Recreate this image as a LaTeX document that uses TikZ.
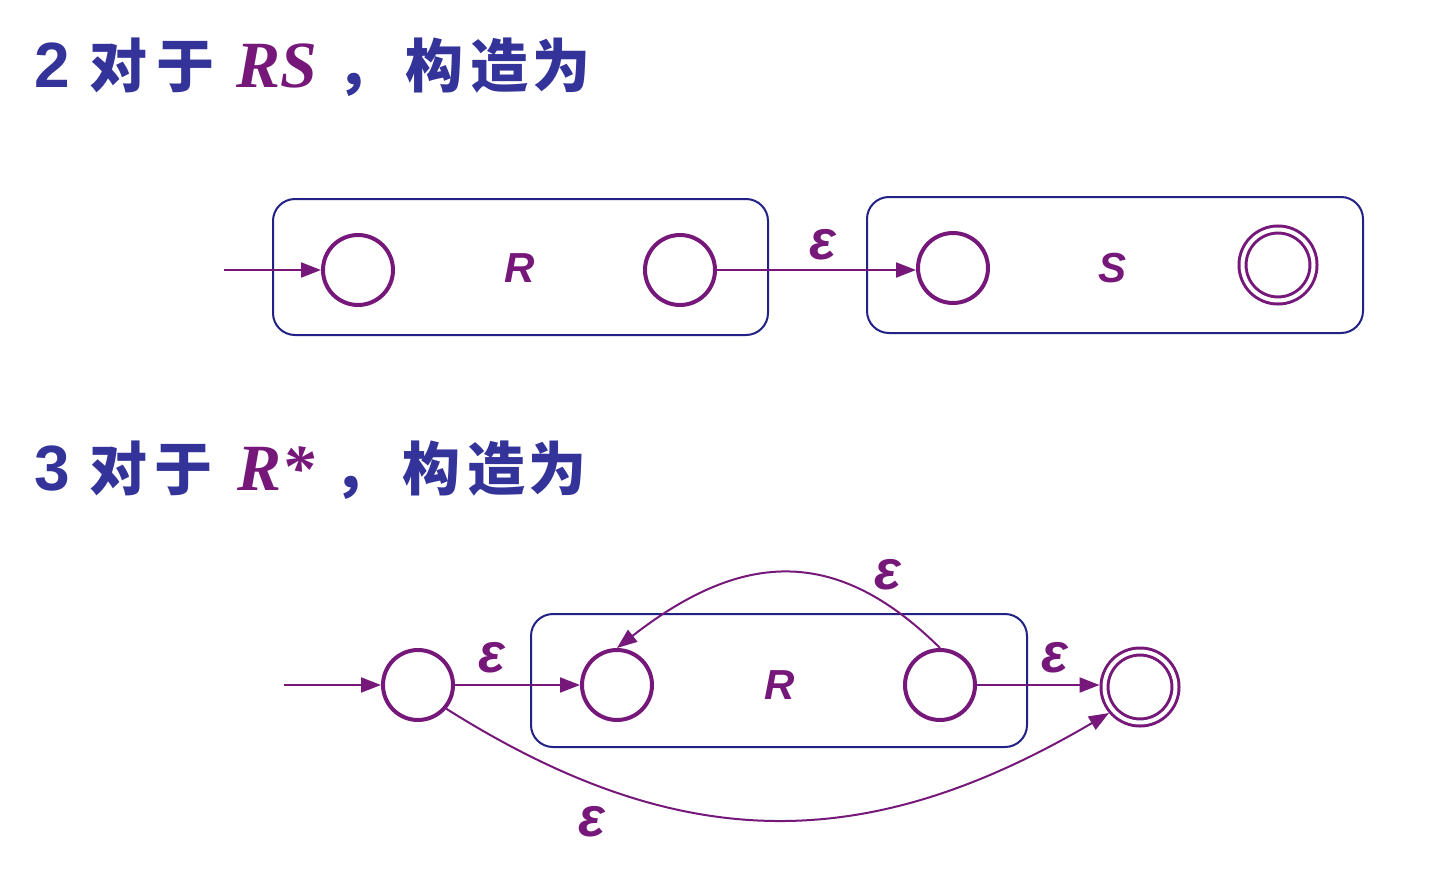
\documentclass[tikz,border=0pt]{standalone}
\usepackage{fontspec}
\setmainfont{Liberation Sans}
\newfontfamily\cjk{Noto Sans CJK SC}[UprightFont=* Black]
\newfontfamily\tnr{Liberation Serif}
\usetikzlibrary{arrows.meta}
\definecolor{purp}{RGB}{118,24,122}
\definecolor{navy}{RGB}{34,34,134}
\definecolor{tblue}{RGB}{51,51,153}
\begin{document}
\begin{tikzpicture}[x=1pt,y=-1pt,
  state/.style={circle, draw=purp, line width=4pt, minimum size=70pt, inner sep=0pt, outer sep=2pt},
  accept/.style={circle, draw=purp, line width=3pt, double=white, double distance=4pt, minimum size=71pt, inner sep=0pt, outer sep=5pt},
  box/.style={draw=navy, line width=2pt, rounded corners=22pt, inner sep=0pt},
  edge/.style={draw=purp, line width=2pt, -{Triangle[length=20pt,width=15pt]}},
  eps/.style={text=purp, inner sep=0pt, font=\fontsize{56}{56}\selectfont\bfseries\itshape},
  lab/.style={text=purp, inner sep=0pt, font=\fontsize{42}{42}\selectfont\bfseries\itshape},
  cj/.style={text=tblue, inner sep=0pt, anchor=base, font=\cjk\fontsize{58}{58}\selectfont},
  num/.style={text=tblue, inner sep=0pt, anchor=base, font=\fontsize{64}{64}\selectfont\bfseries},
  rs/.style={text=purp, inner sep=0pt, anchor=base, font=\tnr\fontsize{66}{66}\selectfont\bfseries\itshape}
]
\useasboundingbox (0,0) rectangle (1444,878);
\fill[white] (0,0) rectangle (1444,878);

% ---------- title 1 ----------
\node[num] (t1n) at (52,87) {2};
\node[cj] (t1a) at (118,87) {对};
\node[cj] (t1b) at (185,87) {于};
\node[rs] (t1c) at (277,87) {RS};
\node[cj, anchor=base west] (t1d) at (336,87) {，};
\node[cj] (t1e) at (434,87) {构};
\node[cj] (t1f) at (499,87) {造};
\node[cj] (t1g) at (561,87) {为};

% ---------- part 2 ----------
\node[box, minimum width=495pt, minimum height=136pt] (boxR) at (520.5,267) {};
\node[box, minimum width=496pt, minimum height=136pt] (boxS) at (1115,265) {};
\node[lab] (labR) at (520,268) {R};
\node[lab] (labS) at (1112,268) {S};
\node[state] (a1) at (358,270) {};
\node[state] (a2) at (680,270) {};
\node[state] (b1) at (953,268) {};
\node[accept] (b2) at (1278,265) {};
\coordinate (in1) at (224,270);
\draw[edge] (in1) -- (a1.west);
\draw[edge] (a2.east) -- (a2.east -| b1.west);
\node[eps] (e1) at (823,245) {ε};

% ---------- title 2 ----------
\node[num] (t2n) at (52,490) {3};
\node[cj] (t2a) at (118,490) {对};
\node[cj] (t2b) at (183,490) {于};
\node[rs] (t2c) at (276,490) {R*};
\node[cj, anchor=base west] (t2d) at (333,490) {，};
\node[cj] (t2e) at (431,490) {构};
\node[cj] (t2f) at (496,490) {造};
\node[cj] (t2g) at (557,490) {为};

% ---------- part 3 ----------
\node[box, minimum width=496pt, minimum height=133pt] (boxR2) at (779,680.5) {};
\node[lab] (labR2) at (780,685) {R};
\node[state] (s0) at (418,685) {};
\node[state] (r1) at (617,685) {};
\node[state] (r2) at (940,685) {};
\node[accept] (f) at (1140,687) {};
\coordinate (in2) at (284,685);
\draw[edge] (in2) -- (s0.west);
\draw[edge] (s0.east) -- (r1.west);
\draw[edge] (r2.east) -- (r2.east -| f.west);
\draw[edge] (r2.north) .. controls (839,548) and (745,548) .. (r1.north);
\draw[edge] (s0.-40) .. controls (680,856) and (866,856) .. (f.220);
\node[eps] (e2) at (492,658) {ε};
\node[eps] (e3) at (1055,658) {ε};
\node[eps] (e4) at (888,575) {ε};
\node[eps] (e5) at (592,822) {ε};
\end{tikzpicture}
\end{document}
